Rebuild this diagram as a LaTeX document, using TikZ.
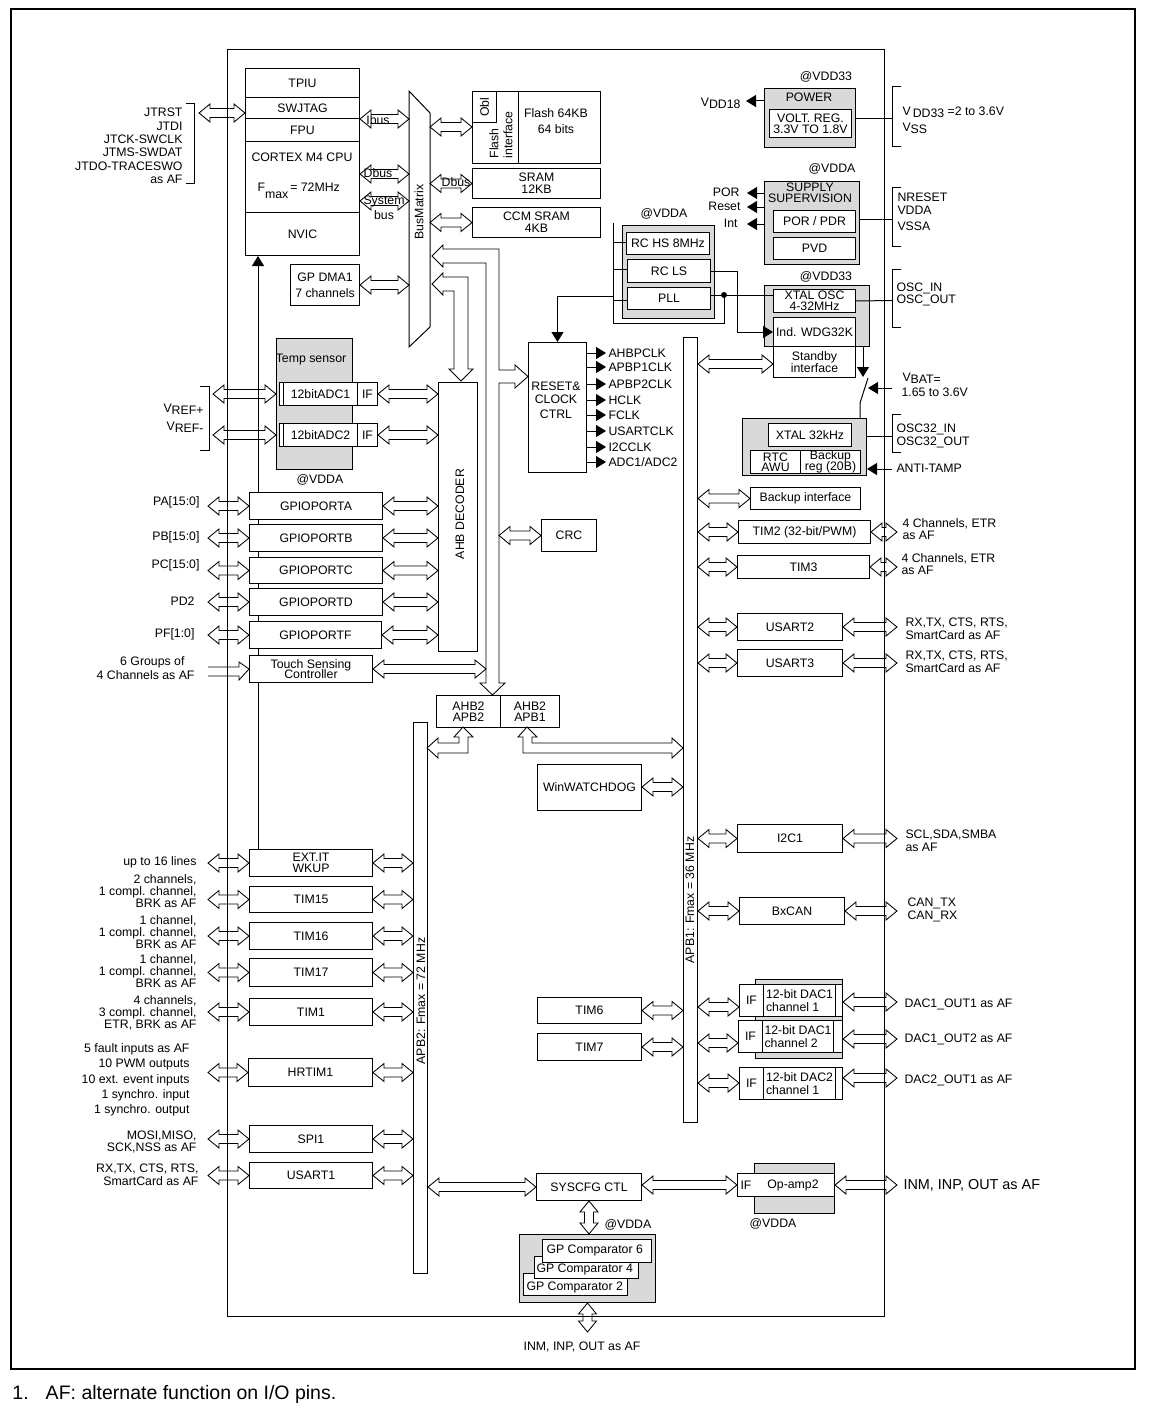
\documentclass[tikz,border=0pt]{standalone}
\usepackage{fontspec}
\setmainfont{Liberation Sans}
\usetikzlibrary{arrows.meta}
\usetikzlibrary{calc}
\usetikzlibrary{positioning}
\tikzset{blk/.style = {draw, fill=white, inner sep=0pt, align=center}}
\tikzset{gbox/.style = {draw, fill=gray!30}}
\tikzset{nw/.style = {anchor=north west}}
\tikzset{wh/.style 2 args = {minimum width=#1pt, minimum height=#2pt}}
\tikzset{fat/.style = {draw, line width=0.85pt, line join=miter}}
\tikzset{sig/.style = {-{Triangle[length=10pt, width=12pt]}}}
\tikzset{txt/.style = {inner sep=0pt, align=center}}
\tikzset{ltxt/.style = {inner sep=0pt, align=left, anchor=west}}
\tikzset{rtxt/.style = {inner sep=0pt, align=right, anchor=east}}
% hollow double arrows: #1 level, #2 and #3 the two ends
\newcommand\dblh[3]{%
  \draw [fat] let \p1 = (#2 |- #1), \p2 = (#3 |- #1) in
    (\x1,\y1) -- (\x1+11pt,\y1+9pt) -- (\x1+11pt,\y1+4.5pt) -- (\x2-11pt,\y1+4.5pt) -- (\x2-11pt,\y1+9pt)
    -- (\x2,\y1) -- (\x2-11pt,\y1-9pt) -- (\x2-11pt,\y1-4.5pt) -- (\x1+11pt,\y1-4.5pt) -- (\x1+11pt,\y1-9pt) -- cycle;
}
\newcommand\dblv[3]{%
  \draw [fat] let \p1 = (#1 |- #2), \p2 = (#1 |- #3) in
    (\x1,\y1) -- (\x1+9pt,\y1-11pt) -- (\x1+4.5pt,\y1-11pt) -- (\x1+4.5pt,\y2+11pt) -- (\x1+9pt,\y2+11pt)
    -- (\x1,\y2) -- (\x1-9pt,\y2+11pt) -- (\x1-4.5pt,\y2+11pt) -- (\x1-4.5pt,\y1-11pt) -- (\x1-9pt,\y1-11pt) -- cycle;
}
\newcommand\lowr[1]{\raisebox{-2pt}{#1}}

\begin{document}
\begin{tikzpicture}[x=1pt, y=-1pt, line width=1pt, font=\fontsize{12.3}{13.4}\selectfont]
  \useasboundingbox (0,0) rectangle (1148,1410);
  \draw [line width=2.6pt] (11,9) rectangle (1135,1369);
  \draw (227,50) rectangle (884,1316);

  \coordinate (jio) at (199,0);
  \coordinate (vio) at (213,0);
  \coordinate (lio) at (208,0);
  \coordinate (rio) at (897,0);
  \coordinate (busl) at (486,0);
  \coordinate (busr) at (499,0);

  % core
  \node [blk, nw, wh={114}{29}] (tpiu) at (245,68) {TPIU};
  \node [blk, nw, wh={114}{21}] (swjtag) at (245,97) {SWJTAG};
  \node [blk, nw, wh={114}{23}] (fpu) at (245,118) {FPU};
  \node [blk, nw, wh={114}{71}] (cpu) at (245,141) {};
  \node [txt] (cpulbl) at (302,157) {CORTEX M4 CPU};
  \node [anchor=west, inner sep=0pt] (fmax) at (257,191) {F\raisebox{-7pt}{max}\,= 72MHz};
  \node [blk, nw, wh={114}{43}] (nvic) at (245,212) {NVIC};
  \node [blk, nw, wh={69}{41}] (dma) at (290,264) {GP DMA1\\[3pt]7 channels};

  \draw (186,104) -- (194,104) -- (194,183) -- (186,183);
  \node [rtxt] (jtag) at (183,146) {JTRST\\JTDI\\JTCK-SWCLK\\JTMS-SWDAT\\JTDO-TRACESWO\\as AF};
  \dblh{0,113}{jio}{tpiu.west}

  % bus matrix
  \node [nw, wh={20}{255}, inner sep=0pt] (bm) at (409,91) {};
  \draw (bm.north west) -- ([yshift=-22pt]bm.north east) -- ([yshift=20pt]bm.south east) -- (bm.south west) -- cycle;
  \node [txt, rotate=90] (bmlbl) at (419,212) {BusMatrix};
  \dblh{0,119}{fpu.east}{bm.west}
  \dblh{0,174}{cpu.east}{bm.west}
  \dblh{0,201}{cpu.east}{bm.west}
  \dblh{dma}{dma.east}{bm.west}
  \node [txt] (ibus) at (378,120) {Ibus};
  \node [txt] (dbus) at (378,173) {Dbus};
  \node [txt] (sysbus) at (384,208) {System\\[1.6pt]bus};

  % memories
  \node [blk, nw, wh={128}{72}] (flash) at (472,91) {};
  \node [blk, nw, wh={24}{31}] (obl) at (472,91) {};
  \node [txt, rotate=90] (obllbl) at (obl) {Obl};
  \draw ([xshift=46pt]flash.north west) -- ([xshift=46pt]flash.south west);
  \node [txt, align=left, rotate=90, anchor=north west, font=\fontsize{12.3}{14}\selectfont] (flif) at (489,159) {Flash\\interface};
  \node [txt, font=\fontsize{12.3}{16}\selectfont] (flsize) at (556,121) {Flash 64KB\\64 bits};
  \node [blk, nw, wh={128}{30}] (sram) at (472,168) {SRAM\\[-1pt]12KB};
  \node [blk, nw, wh={128}{30}] (ccm) at (472,207) {CCM SRAM\\[-1pt]4KB};
  \dblh{0,127}{bm.east}{flash.west}
  \dblh{sram}{bm.east}{sram.west}
  \node [txt] (dbus2) at (456,182) {Dbus};
  \dblh{ccm}{bm.east}{ccm.west}

  % AHB buses from the bus matrix
  \draw [fat] (432,256) -- (443,245) -- (443,249) -- (499,249) -- (499,370) -- (515,370) -- (515,365) -- (528,376.5)
    -- (515,388) -- (515,383) -- (499,383) -- (499,683) -- (505,683) -- (492.5,695) -- (480,683) -- (486,683)
    -- (486,263) -- (443,263) -- (443,267) -- cycle;
  \draw [fat] (432,284) -- (443,273) -- (443,277) -- (468,277) -- (468,369) -- (473,369) -- (461,381) -- (449,369)
    -- (454,369) -- (454,291) -- (443,291) -- (443,295) -- cycle;

  % reset and clock control
  \node [blk, nw, wh={58}{130}] (rcc) at (528,342) {};
  \node [txt] (rcclbl) at (556,400) {RESET\&\\[-0.4pt]CLOCK\\[1.6pt]CTRL};
  \draw [sig] (rcc.east |- 0,353) -- ++(19,0) coordinate (ck1);
  \node [ltxt, right=2pt of ck1] (ck1lbl) {AHBPCLK};
  \draw [sig] (rcc.east |- 0,367) -- ++(19,0) coordinate (ck2);
  \node [ltxt, right=2pt of ck2] (ck2lbl) {APBP1CLK};
  \draw [sig] (rcc.east |- 0,384) -- ++(19,0) coordinate (ck3);
  \node [ltxt, right=2pt of ck3] (ck3lbl) {APBP2CLK};
  \draw [sig] (rcc.east |- 0,400) -- ++(19,0) coordinate (ck4);
  \node [ltxt, right=2pt of ck4] (ck4lbl) {HCLK};
  \draw [sig] (rcc.east |- 0,415) -- ++(19,0) coordinate (ck5);
  \node [ltxt, right=2pt of ck5] (ck5lbl) {FCLK};
  \draw [sig] (rcc.east |- 0,431) -- ++(19,0) coordinate (ck6);
  \node [ltxt, right=2pt of ck6] (ck6lbl) {USARTCLK};
  \draw [sig] (rcc.east |- 0,447) -- ++(19,0) coordinate (ck7);
  \node [ltxt, right=2pt of ck7] (ck7lbl) {I2CCLK};
  \draw [sig] (rcc.east |- 0,462) -- ++(19,0) coordinate (ck8);
  \node [ltxt, right=2pt of ck8] (ck8lbl) {ADC1/ADC2};

  % power
  \node [gbox, nw, wh={91}{59}] (power) at (764,88) {};
  \node [txt] (powlbl) at (809,97) {POWER};
  \node [blk, nw, wh={82}{28}] (vreg) at (769,109) {VOLT. REG.\\[-2pt]3.3V TO 1.8V};
  \node [txt] (pwvdd) at (826,77) {@VDD33};
  \draw [sig] (power.west |- 0,101) -- ++(-18,0);
  \node [rtxt] (vdd18) at (741,103) {V\lowr{DD18}};
  \draw (power.east |- 0,119) -- (892,119);
  \draw (901,87) -- (892,87) -- (892,146) -- (901,146);
  \node [ltxt] (vdd33) at (902,112) {V\,\lowr{DD33} =2 to 3.6V};
  \node [ltxt] (vss) at (902,128) {V\lowr{SS}};

  % supply supervision
  \node [gbox, nw, wh={95}{83}] (supv) at (764,181) {};
  \node [txt] (supvlbl) at (810,193) {SUPPLY\\[-2pt]SUPERVISION};
  \node [blk, nw, wh={82}{22}] (por) at (773,210) {POR / PDR};
  \node [blk, nw, wh={82}{22}] (pvd) at (773,237) {PVD};
  \node [txt] (supvdd) at (832,169) {@VDDA};
  \draw [sig] (supv.west |- 0,193) -- ++(-17,0);
  \draw [sig] (supv.west |- 0,207) -- ++(-17,0);
  \draw [sig] (supv.west |- 0,224) -- ++(-17,0);
  \node [rtxt] (porlbl) at (740,192) {POR};
  \node [rtxt] (rstlbl) at (741,206) {Reset};
  \node [rtxt] (intlbl) at (738,223) {Int};
  \draw (supv.east |- 0,219) -- (892,219);
  \draw (901,187) -- (892,187) -- (892,246) -- (901,246);
  \node [ltxt] (supvpins) at (897,212) {NRESET\\[-0.4pt]VDDA\\[2.6pt]VSSA};

  % oscillators
  \node [gbox, nw, wh={105}{61}] (oscgrp) at (764,285) {};
  \node [blk, nw, wh={82}{23}] (xosc) at (773,289) {XTAL OSC\\[-2.6pt]4-32MHz};
  \node [blk, nw, wh={82}{29}] (iwdg) at (773,317) {Ind. WDG32K};
  \node [blk, nw, wh={82}{31}] (stby) at (773,346) {Standby\\[-2pt]interface};
  \node [txt] (oscvdd) at (826,277) {@VDD33};
  \draw (xosc.east) -- (892,300.5);
  \draw (901,269) -- (892,269) -- (892,327) -- (901,327);
  \node [ltxt] (oscpins) at (896,294) {OSC\_IN\\[-1.4pt]OSC\_OUT};

  \node [gbox, nw, wh={92}{93}] (clkgrp) at (622,225) {};
  \node [blk, nw, wh={83}{22}] (rchs) at (626,232) {RC HS 8MHz};
  \node [blk, nw, wh={83}{23}] (rcls) at (627,259) {RC LS};
  \node [blk, nw, wh={83}{22}] (pll) at (627,287) {PLL};
  \node [txt] (clkvdd) at (664,214) {@VDDA};
  \draw (613,223) -- (613,323) -- (724,323) -- (724,295);
  \draw (613,242) -- (rchs.west |- 0,242);
  \draw (613,269) -- (rcls.west |- 0,269);
  \draw (613,300) -- (pll.west |- 0,300);
  \draw (pll.east |- 0,295) -- (xosc.west |- 0,295);
  \fill (724,295) circle (3pt);
  \draw [sig] (613,296) -| (rcc.north);
  \draw [sig] (rcls.east) -| (737,332) -- (iwdg.west |- 0,332);

  % backup domain
  \node [gbox, nw, wh={124}{57}] (rtcgrp) at (742,418) {};
  \node [blk, nw, wh={83}{23}] (x32) at (768,423) {XTAL 32kHz};
  \node [blk, nw, wh={50}{23}] (rtc) at (750,450) {RTC\\[-3pt]AWU};
  \node [blk, nw, wh={60}{23}] (bkreg) at (800,450) {Backup\\[-3pt]reg (20B)};
  \node [blk, nw, wh={110}{22}] (bkif) at (750,487) {Backup interface};
  \draw [sig] (oscgrp.south -| 863,0) -- (863,377);
  \draw (868,378) -- (860,403) -- (rtcgrp.north -| 860,0);
  \draw [sig] (892,388) -- (868,388);
  \node [ltxt] (vbat) at (902,378) {V\lowr{BAT=}};
  \node [ltxt] (vbatr) at (901,392) {1.65 to 3.6V};
  \draw (rtcgrp.east |- 0,436) -- (892,436);
  \draw (901,414) -- (892,414) -- (892,452) -- (901,452);
  \node [ltxt] (osc32) at (896,436) {OSC32\_IN\\[-1pt]OSC32\_OUT};
  \draw [sig] (892,469) -- (rtcgrp.east |- 0,469);
  \node [ltxt] (tamp) at (896,468) {ANTI-TAMP};

  % APB1 side
  \node [draw, fill=white, nw, wh={14}{785}, inner sep=0pt] (apb1) at (683,337) {};
  \node [txt, rotate=90] (apb1lbl) at (690,900) {APB1: Fmax = 36 MHz};
  \dblh{0,364}{apb1.east}{stby.west}
  \dblh{bkif}{apb1.east}{bkif.west}
  \node [blk, nw, wh={132}{23}] (tim2) at (738,520) {TIM2 (32-bit/PWM)};
  \dblh{tim2}{apb1.east}{tim2.west}
  \dblh{tim2}{tim2.east}{rio}
  \node [ltxt] (tim2pins) at (902,529) {4 Channels, ETR\\[-1pt]as AF};
  \node [blk, nw, wh={132}{23}] (tim3) at (737,555) {TIM3};
  \dblh{tim3}{apb1.east}{tim3.west}
  \dblh{tim3}{tim3.east}{rio}
  \node [ltxt] (tim3pins) at (901,564) {4 Channels, ETR\\[-1pt]as AF};
  \node [blk, nw, wh={105}{27}] (usart2) at (737,613) {USART2};
  \dblh{usart2}{apb1.east}{usart2.west}
  \dblh{usart2}{usart2.east}{rio}
  \node [ltxt] (us2pins) at (905,629) {RX,TX, CTS, RTS,\\SmartCard as AF};
  \node [blk, nw, wh={105}{27}] (usart3) at (737,649) {USART3};
  \dblh{usart3}{apb1.east}{usart3.west}
  \dblh{usart3}{usart3.east}{rio}
  \node [ltxt] (us3pins) at (905,662) {RX,TX, CTS, RTS,\\SmartCard as AF};
  \node [blk, nw, wh={105}{28}] (i2c1) at (737,824) {I2C1};
  \dblh{i2c1}{apb1.east}{i2c1.west}
  \dblh{i2c1}{i2c1.east}{rio}
  \node [ltxt] (i2cpins) at (905,841) {SCL,SDA,SMBA\\as AF};
  \node [blk, nw, wh={105}{27}] (bxcan) at (739,897) {BxCAN};
  \dblh{bxcan}{apb1.east}{bxcan.west}
  \dblh{bxcan}{bxcan.east}{rio}
  \node [ltxt] (canpins) at (907,910) {CAN\_TX\\[-1pt]CAN\_RX};

  \node [gbox, nw, wh={87}{79}] (dacgrp) at (755,979) {};
  \node [blk, nw, wh={24}{32}] (dac11if) at (739,984) {IF};
  \node [blk, nw, wh={72}{32}, align=left] (dac11) at (763,984) {12-bit DAC1\\[-1pt]channel 1};
  \node [blk, nw, wh={7}{32}] (dac11s) at (835,984) {};
  \node [blk, nw, wh={24}{32}] (dac12if) at (738,1020) {IF};
  \node [blk, nw, wh={71}{32}, align=left] (dac12) at (762,1020) {12-bit DAC1\\[-1pt]channel 2};
  \node [blk, nw, wh={9}{32}] (dac12s) at (833,1020) {};
  \node [blk, nw, wh={24}{32}] (dac2if) at (739,1067) {IF};
  \node [blk, nw, wh={72}{32}, align=left] (dac2) at (763,1067) {12-bit DAC2\\[-1pt]channel 1};
  \node [blk, nw, wh={7}{32}] (dac2s) at (835,1067) {};
  \dblh{0,1007}{apb1.east}{dac11if.west}
  \dblh{0,1002}{dac11s.east}{rio}
  \dblh{0,1043}{apb1.east}{dac12if.west}
  \dblh{0,1039}{dac12s.east}{rio}
  \dblh{0,1083}{apb1.east}{dac2if.west}
  \dblh{0,1078}{dac2s.east}{rio}
  \node [ltxt] (dac11out) at (904,1004) {DAC1\_OUT1 as AF};
  \node [ltxt] (dac12out) at (904,1039) {DAC1\_OUT2 as AF};
  \node [ltxt] (dac2out) at (904,1080) {DAC2\_OUT1 as AF};

  \node [blk, nw, wh={104}{46}] (wwdg) at (537,764) {WinWATCHDOG};
  \dblh{0,787}{wwdg.east}{apb1.west}
  \node [blk, nw, wh={104}{26}] (tim6) at (537,997) {TIM6};
  \dblh{tim6}{tim6.east}{apb1.west}
  \node [blk, nw, wh={104}{27}] (tim7) at (537,1033) {TIM7};
  \dblh{tim7}{tim7.east}{apb1.west}

  % bridges
  \node [blk, nw, wh={64}{32}] (ahbapb2) at (436,695) {AHB2\\[-2pt]APB2};
  \node [blk, nw, wh={59}{32}] (ahbapb1) at (500,695) {AHB2\\[-2pt]APB1};
  \node [draw, fill=white, nw, wh={14}{551}, inner sep=0pt] (apb2) at (413,722) {};
  \node [txt, rotate=90] (apb2lbl) at (421,1001) {APB2: Fmax = 72 MHz};
  \draw [fat] (463,727) -- (473,737) -- (468,737) -- (468,753) -- (438,753) -- (438,758) -- (427,748) -- (438,738)
    -- (438,743) -- (459,743) -- (459,737) -- (454,737) -- cycle;
  \draw [fat] (527,727) -- (537,737) -- (532,737) -- (532,743) -- (672,743) -- (672,738) -- (683,748) -- (672,758)
    -- (672,753) -- (523,753) -- (523,737) -- (518,737) -- cycle;

  % APB2 side
  \node [blk, nw, wh={123}{27}] (extit) at (249,849) {EXT.IT\\[-3pt]WKUP};
  \draw [sig] (extit.north -| 258,0) -- (nvic.south -| 258,0);
  \node [blk, nw, wh={123}{26}] (tim15) at (249,886) {TIM15};
  \node [blk, nw, wh={123}{27}] (tim16) at (249,922) {TIM16};
  \node [blk, nw, wh={123}{28}] (tim17) at (249,958) {TIM17};
  \node [blk, nw, wh={123}{27}] (tim1) at (249,998) {TIM1};
  \node [blk, nw, wh={124}{28}] (hrtim) at (248,1058) {HRTIM1};
  \node [blk, nw, wh={123}{27}] (spi1) at (249,1125) {SPI1};
  \node [blk, nw, wh={123}{26}] (usart1) at (249,1162) {USART1};
  \dblh{extit}{lio}{extit.west}
  \dblh{extit}{extit.east}{apb2.west}
  \dblh{tim15}{lio}{tim15.west}
  \dblh{tim15}{tim15.east}{apb2.west}
  \dblh{tim16}{lio}{tim16.west}
  \dblh{tim16}{tim16.east}{apb2.west}
  \dblh{tim17}{lio}{tim17.west}
  \dblh{tim17}{tim17.east}{apb2.west}
  \dblh{tim1}{lio}{tim1.west}
  \dblh{tim1}{tim1.east}{apb2.west}
  \dblh{hrtim}{lio}{hrtim.west}
  \dblh{hrtim}{hrtim.east}{apb2.west}
  \dblh{spi1}{lio}{spi1.west}
  \dblh{spi1}{spi1.east}{apb2.west}
  \dblh{usart1}{lio}{usart1.west}
  \dblh{usart1}{usart1.east}{apb2.west}
  \node [rtxt] (extpins) at (197,862) {up to 16 lines};
  \node [rtxt, font=\fontsize{12.3}{11.8}\selectfont] (t15pins) at (197,891) {2 channels,\\1 compl. channel,\\BRK as AF};
  \node [rtxt, font=\fontsize{12.3}{11.8}\selectfont] (t16pins) at (197,932) {1 channel,\\1 compl. channel,\\BRK as AF};
  \node [rtxt, font=\fontsize{12.3}{11.8}\selectfont] (t17pins) at (197,971) {1 channel,\\1 compl. channel,\\BRK as AF};
  \node [rtxt, font=\fontsize{12.3}{11.8}\selectfont] (t1pins) at (197,1013) {4 channels,\\3 compl. channel,\\ETR, BRK as AF};
  \node [rtxt, font=\fontsize{12.3}{15.2}\selectfont] (hrpins) at (190,1080) {5 fault inputs as AF\\10 PWM outputs\\10 ext. event inputs\\1 synchro. input\\1 synchro. output};
  \node [rtxt, font=\fontsize{12.3}{12.5}\selectfont] (spipins) at (197,1142) {MOSI,MISO,\\SCK,NSS as AF};
  \node [rtxt] (us1pins) at (199,1175) {RX,TX, CTS, RTS,\\SmartCard as AF};

  % AHB side
  \node [draw, fill=white, nw, wh={39}{269}, inner sep=0pt] (ahbdec) at (438,382) {};
  \node [txt, rotate=90] (ahbdeclbl) at (460,514) {AHB DECODER};
  \node [blk, nw, wh={133}{27}] (gpa) at (249,492) {GPIOPORTA};
  \node [blk, nw, wh={133}{27}] (gpb) at (249,524) {GPIOPORTB};
  \node [blk, nw, wh={133}{26}] (gpc) at (249,557) {GPIOPORTC};
  \node [blk, nw, wh={133}{27}] (gpd) at (249,588) {GPIOPORTD};
  \node [blk, nw, wh={132}{27}] (gpf) at (249,621) {GPIOPORTF};
  \node [blk, nw, wh={123}{27}] (tsc) at (249,655) {Touch Sensing\\[-3pt]Controller};
  \dblh{gpa}{lio}{gpa.west}
  \dblh{gpa}{gpa.east}{ahbdec.west}
  \dblh{gpb}{lio}{gpb.west}
  \dblh{gpb}{gpb.east}{ahbdec.west}
  \dblh{gpc}{lio}{gpc.west}
  \dblh{gpc}{gpc.east}{ahbdec.west}
  \dblh{gpd}{lio}{gpd.west}
  \dblh{gpd}{gpd.east}{ahbdec.west}
  \dblh{gpf}{lio}{gpf.west}
  \dblh{gpf}{gpf.east}{ahbdec.west}
  \draw [fat] (208,667) -- (239,667) -- (239,662) -- (tsc.west) -- (239,680) -- (239,676) -- (208,676);
  \dblh{tsc}{tsc.east}{busl}
  \node [rtxt] (pa) at (200,502) {PA[15:0]};
  \node [rtxt] (pb) at (200,537) {PB[15:0]};
  \node [rtxt] (pc) at (200,565) {PC[15:0]};
  \node [rtxt] (pd) at (195,601) {PD2};
  \node [rtxt] (pf) at (195,634) {PF[1:0]};
  \node [rtxt] (tsg) at (185,662) {6 Groups of};
  \node [rtxt] (tsch) at (195,675) {4 Channels as AF};

  \node [gbox, nw, wh={76}{131}] (tsens) at (276,338) {};
  \node [txt] (tslbl) at (311,360) {Temp sensor};
  \node [blk, nw, wh={4}{23}] (adc1s) at (279,382) {};
  \node [blk, nw, wh={74}{23}] (adc1) at (283,382) {12bitADC1};
  \node [blk, nw, wh={20}{23}] (adc1if) at (357,382) {IF};
  \node [blk, nw, wh={4}{23}] (adc2s) at (279,423) {};
  \node [blk, nw, wh={74}{23}] (adc2) at (283,423) {12bitADC2};
  \node [blk, nw, wh={20}{23}] (adc2if) at (357,423) {IF};
  \node [txt] (adcvdd) at (320,480) {@VDDA};
  \dblh{adc1}{vio}{tsens.west}
  \dblh{adc2}{vio}{tsens.west}
  \dblh{adc1}{adc1if.east}{ahbdec.west}
  \dblh{adc2}{adc2if.east}{ahbdec.west}
  \draw (200,386) -- (209,386) -- (209,450) -- (200,450);
  \node [rtxt] (vrefp) at (204,409) {V\lowr{REF+}};
  \node [rtxt] (vrefm) at (204,427) {V\lowr{REF-}};

  \node [blk, nw, wh={55}{32}] (crc) at (541,519) {CRC};
  \dblh{crc}{busr}{crc.west}

  % system config, op-amp, comparators
  \node [blk, nw, wh={105}{27}] (syscfg) at (536,1173) {SYSCFG CTL};
  \dblh{syscfg}{apb2.east}{syscfg.west}
  \node [gbox, nw, wh={80}{50}] (opgrp) at (754,1163) {};
  \node [blk, nw, wh={97}{23}] (opamp) at (737,1173) {};
  \node [txt] (opif) at (746,1185) {IF};
  \node [txt] (oplbl) at (793,1185) {Op-amp2};
  \dblh{opamp}{syscfg.east}{opamp.west}
  \dblh{opamp}{opamp.east}{rio}
  \node [ltxt, font=\fontsize{14.4}{16}\selectfont] (oppins) at (903,1185) {INM, INP, OUT as AF};
  \node [txt] (opvdd) at (773,1224) {@VDDA};
  \node [gbox, nw, wh={136}{68}] (cmpgrp) at (519,1234) {};
  \node [blk, nw, wh={104}{22}] (cmp2) at (523,1273) {};
  \node [blk, nw, wh={104}{22}] (cmp4) at (534,1256) {};
  \node [blk, nw, wh={109}{23}] (cmp6) at (542,1239) {};
  \node [ltxt] (cmp6lbl) at (546,1250) {GP Comparator 6};
  \node [ltxt] (cmp4lbl) at (536,1269) {GP Comparator 4};
  \node [ltxt] (cmp2lbl) at (526,1287) {GP Comparator 2};
  \dblv{syscfg}{syscfg.south}{cmpgrp.north}
  \node [txt] (cmpvdd) at (628,1225) {@VDDA};
  \coordinate (cmpout) at (587,1332);
  \dblv{cmpgrp}{cmpgrp.south}{cmpout}
  \node [txt] (cmppins) at (582,1347) {INM, INP, OUT as AF};

  \node [anchor=west, inner sep=0pt, font=\fontsize{19.5}{22}\selectfont] (note) at (12,1394) {1.\hspace{17pt}AF: alternate function on I/O pins.};
\end{tikzpicture}
\end{document}
